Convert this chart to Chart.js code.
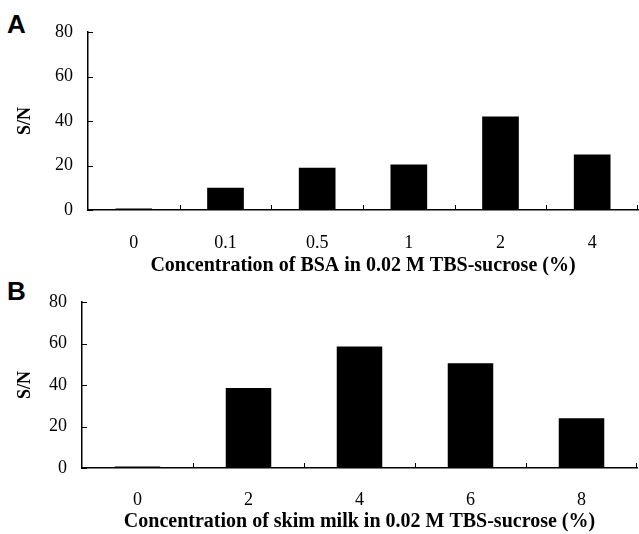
<!DOCTYPE html>
<html lang="en">
<head>
    <meta charset="UTF-8">
    <title>S/N vs blocking agent</title>
    <script src="https://cdn.jsdelivr.net/npm/chart.js"></script>
    <style>
        body { margin: 0; background: #fff; width: 639px; height: 534px; position: relative; overflow: hidden; }
        .panel { position: absolute; left: 0; width: 639px; }
        .tag { position: absolute; left: 7px; font: bold 26px "Liberation Sans", Arial, sans-serif; color: #000; }
    </style>
</head>
<body>
<div class="tag" style="top:9px">A</div>
<div class="tag" style="top:276px">B</div>
<div class="panel" style="top:0; height:278px"><canvas id="chartA" width="639" height="278"></canvas></div>
<div class="panel" style="top:270px; height:264px"><canvas id="chartB" width="639" height="264"></canvas></div>

<script>
    // panel A - BSA
    var bsaLabels = ["0", "0.1", "0.5", "1", "2", "4"];
    var bsaValues = [0.7, 10, 19, 20.5, 42, 25];
    var bsaTitle = "Concentration of BSA in 0.02 M TBS-sucrose (%)";

    // panel B - skim milk
    var milkLabels = ["0", "2", "4", "6", "8"];
    var milkValues = [0.7, 38.5, 58.5, 50.5, 24];
    var milkTitle = "Concentration of skim milk in 0.02 M TBS-sucrose (%)";

    var yTicks = [0, 20, 40, 60, 80];

    var serif = "'Liberation Serif', 'Times New Roman', serif";

    // small inward tick marks like the original figure
    var inwardTicks = {
        id: 'inwardTicks',
        afterDraw: function (chart) {
            var ctx = chart.ctx;
            var x = chart.scales.x, y = chart.scales.y;
            ctx.save();
            ctx.strokeStyle = '#000';
            ctx.lineWidth = 1;
            ctx.beginPath();
            yTicks.forEach(function (v) {
                var py = Math.round(y.getPixelForValue(v)) + 0.5;
                ctx.moveTo(x.left, py);
                ctx.lineTo(x.left + 5, py);
            });
            var n = chart.data.labels.length;
            for (var i = 0; i < n; i++) {
                var px = i < n - 1 ? (x.getPixelForValue(i) + x.getPixelForValue(i + 1)) / 2 : x.right - 1;
                px = Math.round(px) + 0.5;
                ctx.moveTo(px, y.bottom);
                ctx.lineTo(px, y.bottom - 5);
            }
            ctx.stroke();
            ctx.restore();
        }
    };

    function makeChart(id, labels, values, title, opts) {
        var ctx = document.getElementById(id).getContext('2d');
        return new Chart(ctx, {
            type: 'bar',
            data: {
                labels: labels,
                datasets: [{
                    data: values,
                    backgroundColor: '#000',
                    borderWidth: 0,
                    categoryPercentage: 1,
                    barPercentage: opts.barPct
                }]
            },
            options: {
                responsive: false,
                animation: false,
                events: [],
                layout: { padding: { top: opts.top, right: opts.right, left: 0, bottom: 0 } },
                plugins: { legend: { display: false }, tooltip: { enabled: false } },
                scales: {
                    x: {
                        grid: { display: false, drawTicks: false },
                        border: { display: true, color: '#000', width: 1.5 },
                        ticks: { color: '#000', padding: opts.xPad, font: { family: serif, size: 18 } },
                        title: {
                            display: true, text: title, color: '#000',
                            font: { family: serif, size: 20, weight: 'bold' },
                            padding: { top: 0, bottom: 0 }
                        },
                        afterFit: function (s) { s.height = opts.xH; }
                    },
                    y: {
                        min: 0, max: 80,
                        afterBuildTicks: function (s) { s.ticks = yTicks.map(function (v) { return { value: v }; }); },
                        grid: { display: false, drawTicks: false },
                        border: { display: true, color: '#000', width: 1.5 },
                        ticks: { color: '#000', padding: 15, font: { family: serif, size: 18 } },
                        title: {
                            display: true, text: 'S/N', color: '#000',
                            font: { family: serif, size: 18, weight: 'bold' },
                            padding: { top: 15, bottom: 0 }
                        },
                        afterFit: function (s) { s.width = opts.yW; }
                    }
                }
            },
            plugins: [inwardTicks]
        });
    }

    makeChart('chartA', bsaLabels, bsaValues, bsaTitle, { top: 32, right: 1, yW: 88, xH: 68, xPad: 22, barPct: 0.4 });
    makeChart('chartB', milkLabels, milkValues, milkTitle, { top: 32, right: 2, yW: 82, xH: 66, xPad: 21, barPct: 0.41 });
</script>
</body>
</html>
